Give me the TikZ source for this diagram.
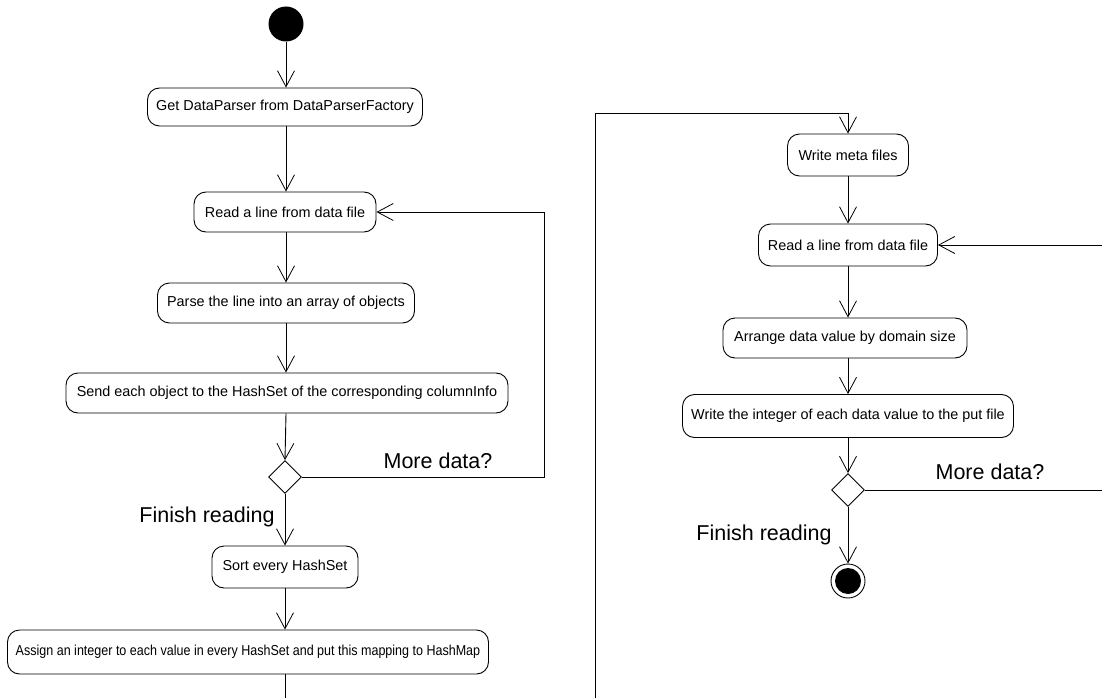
\documentclass[tikz,border=0pt]{standalone}
\usepackage{fontspec}
\setmainfont{Liberation Sans}
\usetikzlibrary{arrows.meta,shapes.geometric}
\begin{document}
\begin{tikzpicture}[x=1pt,y=-1pt,
  act/.style={draw, line width=0.9pt, rounded corners=12pt, minimum height=40pt,
    inner sep=0pt, font=\fontsize{14.4}{16}\selectfont},
  decision/.style={draw, line width=0.9pt, diamond, minimum width=33pt, minimum height=33pt, inner sep=0pt},
  flow/.style={line width=0.9pt, -{Straight Barb[length=16pt,width=17pt,line width=0.8pt]}},
  link/.style={line width=0.9pt},
  guard/.style={font=\fontsize{21.5}{24}\selectfont, inner sep=0pt}]
\useasboundingbox (0,0) rectangle (1102,698);
\clip (0,0) rectangle (1102,698);

% ---- first column: collecting the column values
\node[fill=black, circle, minimum size=35pt, inner sep=0pt] (start) at (286,24) {};
\node[act, minimum width=275pt, minimum height=38pt] (get) at (285,107) {Get DataParser from DataParserFactory};
\node[act, minimum width=182pt] (read1) at (285,212) {Read a line from data file};
\node[act, minimum width=257pt] (parse) at (286,303) {Parse the line into an array of objects};
\node[act, minimum width=442pt] (send) at (287,393) {Send each object to the HashSet of the corresponding columnInfo};
\node[decision] (dec1) at (285,477) {};
\node[act, minimum width=146pt, minimum height=42pt] (sort) at (285,567) {Sort every HashSet};
\node[act, minimum width=481pt, minimum height=44pt] (assign) at (248,652) {\scalebox{0.87}[1]{Assign an integer to each value in every HashSet and put this mapping to HashMap}};

\draw[flow] (start) -- (get.north -| start);
\draw[flow] (get.south -| start) -- (read1.north -| start);
\draw[flow] (read1.south -| start) -- (parse.north -| start);
\draw[flow] (parse.south -| start) -- (send.north -| start);
\draw[flow] (send.south -| start) -- (dec1.north);
\draw[flow] (dec1.east) -- (544,477) -- (544,212) -- (read1.east);
\draw[flow] (dec1.south) -- (sort.north -| dec1);
\draw[flow] (sort.south -| dec1) -- (assign.north -| dec1);

\node[guard] (more1) at (438,461) {More data?};
\node[guard] (fin1) at (207,517) {Finish reading};

% ---- second column: writing the encoded data
\node[act, minimum width=121pt, minimum height=42pt] (meta) at (848,155) {Write meta files};
\node[act, minimum width=179pt, minimum height=42pt] (read2) at (848,245) {Read a line from data file};
\node[act, minimum width=244pt] (arrange) at (845,338) {Arrange data value by domain size};
\node[act, minimum width=331pt, minimum height=43pt] (writeint) at (848,416) {Write the integer of each data value to the put file};
\node[decision] (dec2) at (848,490) {};
\node[draw, circle, line width=0.9pt, minimum size=34pt, inner sep=0pt] (end) at (848,581) {};
\node[fill=black, circle, minimum size=26pt, inner sep=0pt] (endcore) at (end.center) {};

\draw[link] (assign.south -| dec1) -- (285,720) -- (595,720) -- (595,113) -- (848,113);
\draw[flow] (848,113) -- (meta.north);
\draw[flow] (meta.south) -- (read2.north);
\draw[flow] (read2.south) -- (arrange.north -| read2);
\draw[flow] (arrange.south -| read2) -- (writeint.north);
\draw[flow] (writeint.south) -- (dec2.north);
\draw[flow] (dec2.east) -- (1110,490) -- (1110,245) -- (read2.east);
\draw[flow] (dec2.south) -- (end.north);

\node[guard] (more2) at (990,472) {More data?};
\node[guard] (fin2) at (764,535) {Finish reading};
\end{tikzpicture}
\end{document}
